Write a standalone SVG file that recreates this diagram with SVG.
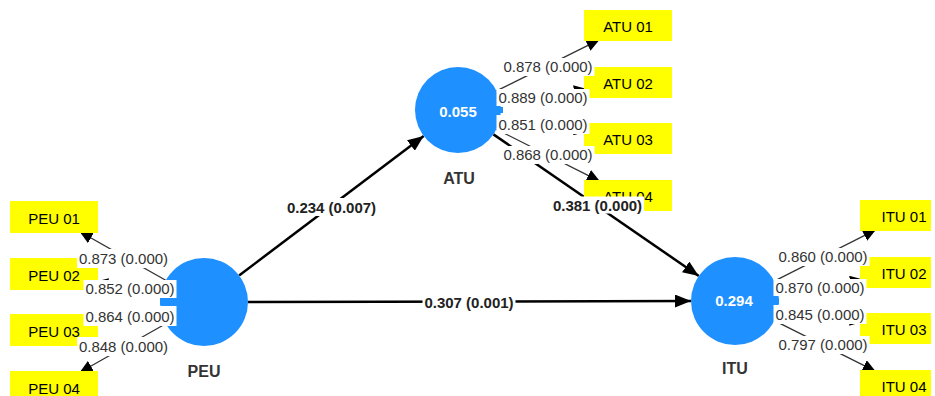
<svg xmlns="http://www.w3.org/2000/svg" width="935" height="396" viewBox="0 0 935 396">
<defs>
<style>
.ind{stroke:#333;stroke-width:1.3;fill:none}
.path{stroke:#000;stroke-width:2.5;fill:none}
.lv{fill:#1E90FF}
.box{fill:#FFFF00}
.bt{font-family:"Liberation Sans",Arial,sans-serif;font-size:15px;fill:#000;text-anchor:middle}
.name{font-family:"Liberation Sans",Arial,sans-serif;font-size:16px;font-weight:bold;fill:#333;text-anchor:middle}
.val{font-family:"Liberation Sans",Arial,sans-serif;font-size:15px;font-weight:bold;fill:#fff;text-anchor:middle}
.lbg{fill:#fff}
.lt{font-family:"Liberation Sans",Arial,sans-serif;font-size:15px;fill:#333;text-anchor:middle}
.pt{font-family:"Liberation Sans",Arial,sans-serif;font-size:15px;font-weight:bold;fill:#222;text-anchor:middle}
</style>
<marker id="ah" markerUnits="userSpaceOnUse" markerWidth="13" markerHeight="12" refX="13" refY="6" orient="auto"><path d="M0,0 L13,6 L0,12 z" fill="#000"/></marker>
<marker id="ahp" markerUnits="userSpaceOnUse" markerWidth="16" markerHeight="13" refX="16" refY="6.5" orient="auto"><path d="M0,0 L16,6.5 L0,13 z" fill="#000"/></marker>
</defs>
<rect width="935" height="396" fill="#fff"/>
<g id="connectors">
<line class="ind" x1="165.7" y1="280.3" x2="79.6" y2="231.5" marker-end="url(#ah)"/>
<line class="ind" x1="160.7" y1="293.9" x2="95.1" y2="281.7" marker-end="url(#ah)"/>
<line class="ind" x1="160.7" y1="310.1" x2="95.1" y2="322.3" marker-end="url(#ah)"/>
<line class="ind" x1="165.7" y1="323.7" x2="79.6" y2="372.5" marker-end="url(#ah)"/>
<line class="ind" x1="496.5" y1="90.9" x2="599.5" y2="39.7" marker-end="url(#ah)"/>
<line class="ind" x1="500.4" y1="103.1" x2="586.9" y2="89.1" marker-end="url(#ah)"/>
<line class="ind" x1="500.4" y1="117.1" x2="587.0" y2="131.6" marker-end="url(#ah)"/>
<line class="ind" x1="496.4" y1="129.3" x2="599.9" y2="181.3" marker-end="url(#ah)"/>
<line class="ind" x1="774.3" y1="281.1" x2="876.1" y2="229.6" marker-end="url(#ah)"/>
<line class="ind" x1="778.4" y1="293.7" x2="863.0" y2="279.4" marker-end="url(#ah)"/>
<line class="ind" x1="778.4" y1="308.1" x2="862.9" y2="321.8" marker-end="url(#ah)"/>
<line class="ind" x1="774.4" y1="320.7" x2="875.7" y2="371.4" marker-end="url(#ah)"/>
<line class="path" x1="239.1" y1="275.5" x2="423.7" y2="135.9" marker-end="url(#ahp)"/>
<line class="path" x1="248" y1="302" x2="691" y2="301" marker-end="url(#ahp)"/>
<line class="path" x1="493.4" y1="134.4" x2="698.8" y2="276.0" marker-end="url(#ahp)"/>
</g>
<g id="PEU">
<circle class="lv" cx="204" cy="302" r="44"/>
<text class="name" x="204" y="376.5">PEU</text>
</g>
<g id="ATU">
<circle class="lv" cx="458" cy="110" r="43"/>
<text class="name" x="459" y="184">ATU</text>
</g>
<g id="ITU">
<circle class="lv" cx="735" cy="301" r="44"/>
<text class="name" x="735" y="374">ITU</text>
</g>
<g id="PEU01"><rect class="box" x="10" y="201" width="88" height="32"/><text class="bt" x="54" y="224">PEU 01</text></g>
<g id="PEU02"><rect class="box" x="10" y="258" width="88" height="32"/><text class="bt" x="54" y="281">PEU 02</text></g>
<g id="PEU03"><rect class="box" x="10" y="314" width="88" height="32"/><text class="bt" x="54" y="337">PEU 03</text></g>
<g id="PEU04"><rect class="box" x="10" y="371" width="88" height="32"/><text class="bt" x="54" y="394">PEU 04</text></g>
<g id="ATU01"><rect class="box" x="584" y="10" width="88" height="31"/><text class="bt" x="628" y="32">ATU 01</text></g>
<g id="ATU02"><rect class="box" x="584" y="67" width="88" height="31"/><text class="bt" x="628" y="89">ATU 02</text></g>
<g id="ATU03"><rect class="box" x="584" y="123" width="88" height="31"/><text class="bt" x="628" y="145">ATU 03</text></g>
<g id="ATU04"><rect class="box" x="584" y="180" width="88" height="31"/><text class="bt" x="628" y="202">ATU 04</text></g>
<g id="ITU01"><rect class="box" x="860" y="200" width="71" height="31"/><text class="bt" x="904" y="221.5">ITU 01</text></g>
<g id="ITU02"><rect class="box" x="860" y="257" width="71" height="31"/><text class="bt" x="904" y="278.5">ITU 02</text></g>
<g id="ITU03"><rect class="box" x="860" y="313" width="71" height="31"/><text class="bt" x="904" y="334.5">ITU 03</text></g>
<g id="ITU04"><rect class="box" x="860" y="370" width="71" height="31"/><text class="bt" x="904" y="391.5">ITU 04</text></g>
<g id="connector-labels">
<rect class="lbg" x="77" y="249" width="93" height="19"/><text class="lt" x="123.5" y="263.5">0.873 (0.000)</text>
<rect class="lbg" x="83.5" y="280" width="93" height="18"/><text class="lt" x="130" y="294">0.852 (0.000)</text>
<rect class="lbg" x="83.5" y="306" width="93" height="20"/><text class="lt" x="130" y="322">0.864 (0.000)</text>
<rect class="lbg" x="77" y="337" width="93" height="19"/><text class="lt" x="123.5" y="351.5">0.848 (0.000)</text>
<rect class="lbg" x="501.5" y="58" width="93" height="18"/><text class="lt" x="548" y="72">0.878 (0.000)</text>
<rect class="lbg" x="496.5" y="89" width="93" height="17"/><text class="lt" x="543" y="102.5">0.889 (0.000)</text>
<rect class="lbg" x="496.5" y="115" width="93" height="19"/><text class="lt" x="543" y="130">0.851 (0.000)</text>
<rect class="lbg" x="501.5" y="146" width="93" height="18"/><text class="lt" x="548" y="160">0.868 (0.000)</text>
<rect class="lbg" x="776.5" y="248" width="93" height="18"/><text class="lt" x="823" y="262">0.860 (0.000)</text>
<rect class="lbg" x="773.5" y="279" width="93" height="17"/><text class="lt" x="820" y="292.5">0.870 (0.000)</text>
<rect class="lbg" x="773.5" y="305" width="93" height="19"/><text class="lt" x="820" y="320">0.845 (0.000)</text>
<rect class="lbg" x="776.5" y="336" width="93" height="18"/><text class="lt" x="823" y="350">0.797 (0.000)</text>
<rect class="lbg" x="285" y="198" width="93" height="18"/><text class="pt" x="331.5" y="212.5">0.234 (0.007)</text>
<rect class="lbg" x="422.5" y="293" width="93" height="18"/><text class="pt" x="469" y="307.5">0.307 (0.001)</text>
<rect class="lbg" x="551" y="196.5" width="93" height="17"/><text class="pt" x="597.5" y="210.5">0.381 (0.000)</text>
</g>
<g id="tabs">
<rect class="lv" x="160" y="298" width="17" height="7"/>
<rect class="lv" x="493" y="107" width="10" height="6"/>
<rect class="lv" x="770" y="298" width="9" height="6"/>
</g>
<g id="values">
<text class="val" x="458" y="117">0.055</text>
<text class="val" x="734" y="306">0.294</text>
</g>
</svg>
